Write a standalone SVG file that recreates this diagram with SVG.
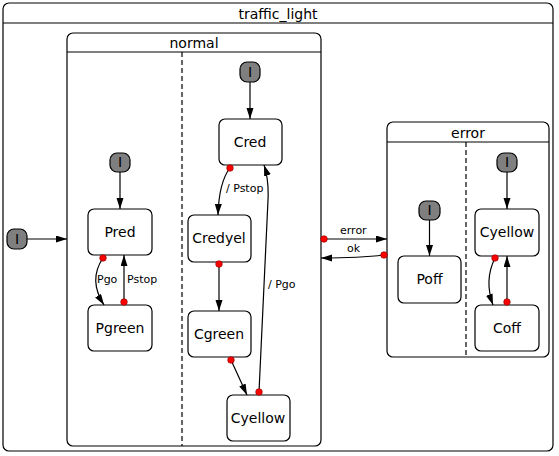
<svg xmlns="http://www.w3.org/2000/svg" width="559" height="456" viewBox="0 0 559 456">
<style>
.box{fill:#fff;stroke:#000;stroke-width:1.2}
.st{fill:#fff;stroke:#000;stroke-width:1.2}
.ini{fill:#7f7f7f;stroke:#000;stroke-width:1.2}
.t{font-family:"DejaVu Sans",sans-serif;font-size:14px;fill:#000;text-anchor:middle}
.lb{font-family:"DejaVu Sans",sans-serif;font-size:11px;fill:#000}
.dash{stroke:#000;stroke-width:1.2;stroke-dasharray:5,3;fill:none}
.hd{stroke:#000;stroke-width:1.2}
.e{fill:none;stroke:#000;stroke-width:1.2;marker-end:url(#ah)}
.dot{fill:#ff0000;stroke:#800000;stroke-width:0.6}
</style>
<defs>
<marker id="ah" markerWidth="12" markerHeight="8" refX="11" refY="3.5" orient="auto" markerUnits="userSpaceOnUse">
<path d="M0,0 L11,3.5 L0,7 Z" fill="#000"/>
</marker>
</defs>
<rect width="559" height="456" fill="#fff"/>
<g id="traffic_light">
<rect class="box" x="3" y="3" width="550" height="448" rx="6"/>
<line class="hd" x1="3" y1="23" x2="553" y2="23"/>
<text class="t" x="278" y="19">traffic_light</text>
</g>
<g id="init_top">
<rect class="ini" x="7" y="229" width="20" height="20" rx="7"/>
<text class="t" x="17" y="244">I</text>
</g>
<g id="normal">
<rect class="box" x="67" y="33" width="254" height="413" rx="6"/>
<line class="hd" x1="67" y1="52" x2="321" y2="52"/>
<text class="t" x="194" y="48">normal</text>
<line class="dash" x1="182" y1="52" x2="182" y2="446"/>
</g>
<g id="init_p">
<rect class="ini" x="110" y="153" width="20" height="19" rx="7"/>
<text class="t" x="120" y="167">I</text>
</g>
<g id="Pred">
<rect class="st" x="88" y="209" width="64" height="46" rx="6"/>
<text class="t" x="120" y="237">Pred</text>
</g>
<g id="Pgreen">
<rect class="st" x="88" y="305" width="64" height="46" rx="6"/>
<text class="t" x="120" y="333">Pgreen</text>
</g>
<g id="init_c">
<rect class="ini" x="240" y="62" width="20" height="20" rx="7"/>
<text class="t" x="250" y="77">I</text>
</g>
<g id="Cred">
<rect class="st" x="219" y="119" width="63" height="46" rx="6"/>
<text class="t" x="250" y="147">Cred</text>
</g>
<g id="Credyel">
<rect class="st" x="188" y="215" width="63" height="47" rx="6"/>
<text class="t" x="219" y="243">Credyel</text>
</g>
<g id="Cgreen">
<rect class="st" x="188" y="311" width="63" height="46" rx="6"/>
<text class="t" x="219" y="339">Cgreen</text>
</g>
<g id="Cyellow_n">
<rect class="st" x="227" y="395" width="63" height="46" rx="6"/>
<text class="t" x="258" y="423">Cyellow</text>
</g>
<g id="error">
<rect class="box" x="387" y="122" width="162" height="235" rx="6"/>
<line class="hd" x1="387" y1="142" x2="549" y2="142"/>
<text class="t" x="468" y="138">error</text>
<line class="dash" x1="466" y1="142" x2="466" y2="357"/>
</g>
<g id="init_e1">
<rect class="ini" x="419" y="201" width="21" height="19" rx="7"/>
<text class="t" x="429.5" y="215">I</text>
</g>
<g id="Poff">
<rect class="st" x="398" y="256" width="63" height="47" rx="6"/>
<text class="t" x="429.5" y="284">Poff</text>
</g>
<g id="init_e2">
<rect class="ini" x="497" y="153" width="20" height="19" rx="7"/>
<text class="t" x="507" y="167">I</text>
</g>
<g id="Cyellow_e">
<rect class="st" x="475" y="209" width="64" height="47" rx="6"/>
<text class="t" x="507" y="237">Cyellow</text>
</g>
<g id="Coff">
<rect class="st" x="475" y="305" width="64" height="46" rx="6"/>
<text class="t" x="507" y="333">Coff</text>
</g>
<g id="connectors">
<line class="e" x1="27" y1="239" x2="67" y2="239"/>
<line class="e" x1="120" y1="172" x2="120" y2="209"/>
<line class="e" x1="250" y1="82" x2="250" y2="119"/>
<line class="e" x1="429.5" y1="220" x2="429.5" y2="256"/>
<line class="e" x1="507" y1="172" x2="507" y2="209"/>
<path class="e" d="M103,258 Q88,280 104,305"/>
<line class="e" x1="124" y1="302" x2="124" y2="255"/>
<path class="e" d="M230,168 Q219,182 218,215"/>
<path class="e" d="M259,392 L268,200 Q269,180 264,165"/>
<line class="e" x1="219" y1="264" x2="219" y2="311"/>
<line class="e" x1="231" y1="360" x2="247" y2="395"/>
<line class="e" x1="324" y1="239" x2="387" y2="239"/>
<path class="e" d="M384,255 Q360,258 321,258"/>
<path class="e" d="M495,258 Q484,280 493,305"/>
<line class="e" x1="507" y1="302" x2="507" y2="256"/>
<circle class="dot" cx="103" cy="258" r="3.3"/>
<circle class="dot" cx="124" cy="302" r="3.3"/>
<circle class="dot" cx="230" cy="168" r="3.3"/>
<circle class="dot" cx="259" cy="392" r="3.3"/>
<circle class="dot" cx="219" cy="264" r="3.3"/>
<circle class="dot" cx="231" cy="360" r="3.3"/>
<circle class="dot" cx="324" cy="239" r="3.3"/>
<circle class="dot" cx="384" cy="255" r="3.3"/>
<circle class="dot" cx="495" cy="258" r="3.3"/>
<circle class="dot" cx="507" cy="302" r="3.3"/>
<text class="lb" x="97" y="283">Pgo</text>
<text class="lb" x="127" y="283">Pstop</text>
<text class="lb" x="226" y="192">/ Pstop</text>
<text class="lb" x="268" y="288">/ Pgo</text>
<text class="lb" x="340" y="234">error</text>
<text class="lb" x="347" y="252">ok</text>
</g>
</svg>
